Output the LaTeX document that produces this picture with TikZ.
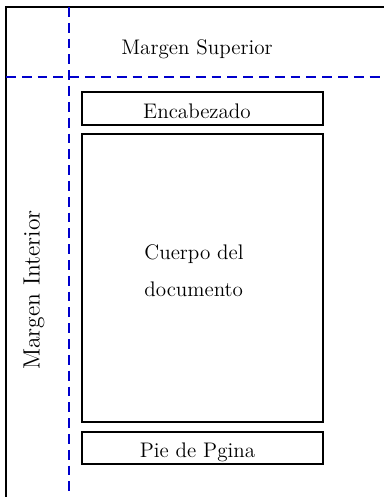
\documentclass[tikz,border=0pt]{standalone}
\usepackage{tikz}
\usetikzlibrary{positioning}
\tikzset{caja/.style={draw=black, line width=1.3pt, minimum width=4.82cm, inner sep=0},
  txt/.style={font=\fontsize{12}{21}\selectfont},
  margen/.style={draw=blue!80!black, line width=1.2pt, dash pattern=on 5.6pt off 3.4pt}}

\begin{document}
\begin{tikzpicture}[x=0.02cm, y=-0.02cm]
    \useasboundingbox (0,0) rectangle (384,497);
    \coordinate (P0) at (384,7);
    \coordinate (P1) at (6,497);
    \draw[line width=1.3pt] (P0) -| (P1);

    \node[caja, minimum height=0.66cm](E) at (202.5,108.5) {};
    \node[caja, minimum height=5.75cm](C) at (202.5,278) {};
    \node[caja, minimum height=0.65cm](F) at (202.5,448) {};

    \node[txt] (enc) at (197,111.5) {Encabezado};
    \node[txt] (pie) at (197.5,452) {Pie de Pgina};
    \node[txt, align=left] (cuerpo) at (194,271) {Cuerpo del\\documento};
    \node[txt] (sup) at (197,49) {Margen Superior};
    \node[txt, font=\fontsize{13.4}{16}\selectfont, rotate=90] (int) at (34,290) {Margen Interior};

    \coordinate (V0) at (69,7);
    \coordinate (V1) at (69,497);
    \coordinate (H0) at (6,77);
    \coordinate (H1) at (384,77);
    \draw[margen] (V0) -- (V1);
    \draw[margen] (H0) -- (H1);
  \end{tikzpicture}
\end{document}
